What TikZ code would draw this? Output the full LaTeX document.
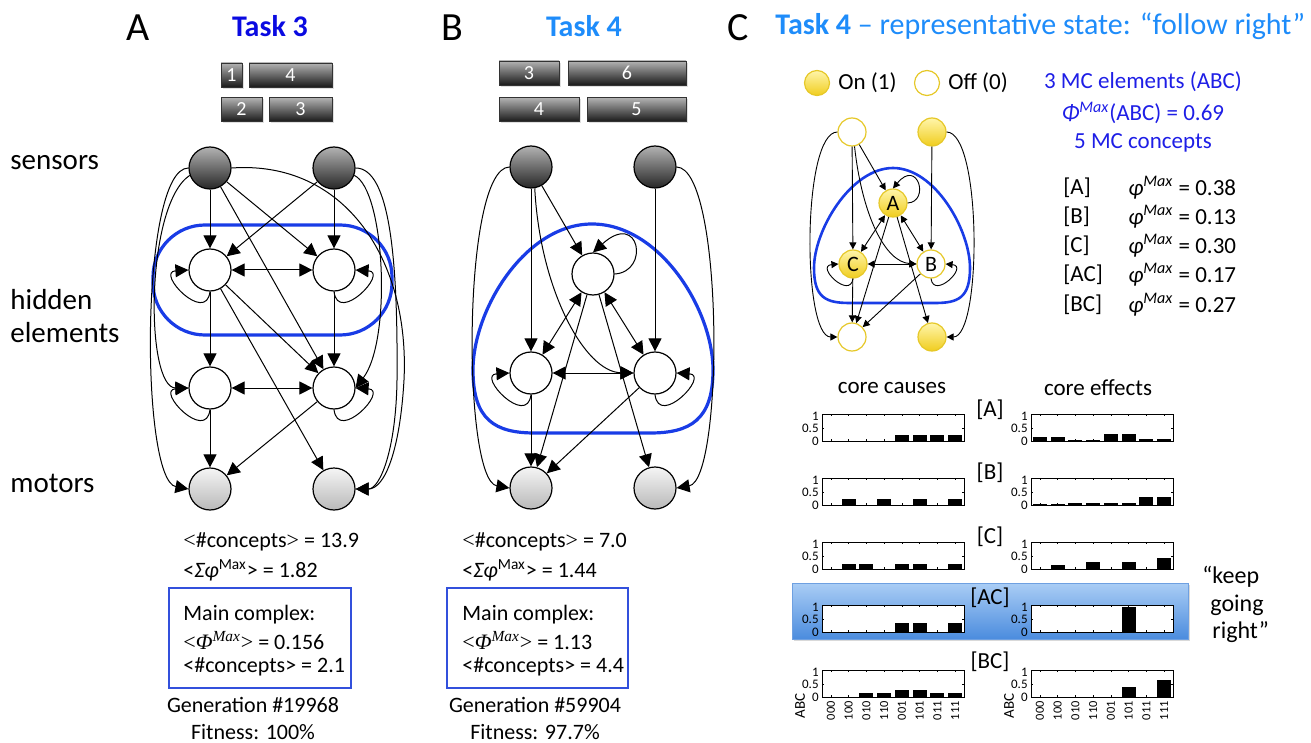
\documentclass[tikz,border=0pt]{standalone}
\usepackage{fontspec}
\setmainfont{Carlito}
\newfontfamily\serif{Liberation Serif}
\usetikzlibrary{arrows.meta,shadows}
\definecolor{loopblue}{RGB}{25,60,230}
\definecolor{taskthree}{RGB}{10,10,225}
\definecolor{taskfour}{RGB}{30,140,250}
\definecolor{mcblue}{RGB}{30,30,230}
\definecolor{boxblue}{RGB}{50,80,220}
\definecolor{yelbord}{RGB}{230,200,40}
\definecolor{yeltop}{RGB}{255,245,170}
\definecolor{yelbot}{RGB}{240,205,30}
\newcommand\fs[1]{\fontsize{#1}{#1}\selectfont}
\newcommand\drawchart[3]{%
  \fill[white] ({#1},{#2-27}) rectangle ++(142,27);
  \foreach \v [count=\i from 0] in {#3} {
    \fill[black] ({#1+8.875+17.75*\i-7},{#2}) rectangle ({#1+8.875+17.75*\i+7},{#2-25*\v});
  }
  \foreach \i in {0,...,7} {
    \draw[line width=0.3pt] ({#1+8.875+17.75*\i},{#2}) -- ++(0,-2);
    \draw[line width=0.3pt] ({#1+8.875+17.75*\i},{#2-27}) -- ++(0,2);
  }
  \draw[line width=0.3pt] ({#1},{#2-12.5}) -- ++(2,0) ({#1+142},{#2-12.5}) -- ++(-2,0);
  \draw[line width=0.5pt] ({#1},{#2-27}) rectangle ++(142,27);
  \node[ticklab] at ({#1-2},{#2}) {0};
  \node[ticklab] at ({#1-2},{#2-12.5}) {0.5};
  \node[ticklab] at ({#1-2},{#2-25}) {1};
}
\begin{document}
\begin{tikzpicture}[x=0.5pt,y=-0.5pt,
  arr/.style={-{Triangle[length=6.5pt,width=6.5pt]}, line width=0.5pt},
  darr/.style={{Triangle[length=6.5pt,width=6.5pt]}-{Triangle[length=6.5pt,width=6.5pt]}, line width=0.5pt},
  arrc/.style={-{Triangle[length=3.5pt,width=3.5pt]}, line width=0.45pt},
  darrc/.style={{Triangle[length=3.5pt,width=3.5pt]}-{Triangle[length=3.5pt,width=3.5pt]}, line width=0.45pt},
  sensor/.style={circle, draw, line width=0.6pt, minimum size=21pt, inner sep=0pt, top color=gray!60, bottom color=black!85},
  hidden/.style={circle, draw, line width=0.6pt, minimum size=21pt, inner sep=0pt, fill=white},
  motor/.style={circle, draw, line width=0.6pt, minimum size=21pt, inner sep=0pt, top color=gray!8, bottom color=gray!55},
  onnode/.style={circle, draw=yelbord, line width=0.6pt, minimum size=14pt, inner sep=0pt, top color=yeltop, bottom color=yelbot, font=\fs{11}},
  offnode/.style={circle, draw=yelbord, line width=0.6pt, minimum size=14pt, inner sep=0pt, fill=white, font=\fs{11}},
  barbox/.style={draw=black!80, line width=0.4pt, top color=gray!60, bottom color=black!90, text=white, font=\fs{10}, inner sep=0pt, minimum height=12pt, drop shadow={opacity=0.25, shadow xshift=0.8pt, shadow yshift=-0.8pt}},
  lbl/.style={anchor=west, font=\fs{14.5}, inner sep=0pt},
  txt/.style={anchor=west, font=\fs{11}, inner sep=0pt},
  ctxt/.style={font=\fs{11.5}},
  ltxt/.style={font=\fs{11.5}, anchor=west, inner sep=0pt},
  ticklab/.style={anchor=east, font=\fs{6.5}, inner sep=0.5pt},
  xtick/.style={anchor=east, rotate=90, font=\fs{6.2}, inner sep=0.5pt},
  loopline/.style={draw=loopblue, line width=1.6pt}
]
\useasboundingbox (0,0) rectangle (1311,743);

% ---------------- headers ----------------
\node[font=\fs{20}] (hA) at (138,28) {A};
\node[font=\fs{15}\bfseries, text=taskthree] (t3) at (270,26) {Task 3};
\node[font=\fs{20}] (hB) at (452,28) {B};
\node[font=\fs{15}\bfseries, text=taskfour] (t4) at (584,26) {Task 4};
\node[font=\fs{20}] (hC) at (738,28) {C};
\node[font=\fs{15}, text=taskfour, anchor=west, inner sep=0pt] (t4c) at (775,26) {{\bfseries Task 4} -- representative state: “follow right”};

% ---------------- row labels ----------------
\node[lbl] (ls) at (10,163) {sensors};
\node[lbl] (lh1) at (10,300) {hidden};
\node[lbl] (lh2) at (10,333) {elements};
\node[lbl] (lm) at (10,483) {motors};

% ---------------- panel A ----------------
\node[barbox, minimum width=10.5pt] (a1) at (231.5,75) {1};
\node[barbox, minimum width=41.5pt] (a4) at (290.5,75) {4};
\node[barbox, minimum width=20.5pt] (a2) at (241.5,109.5) {2};
\node[barbox, minimum width=31.5pt] (a3) at (300.5,109.5) {3};

\draw[loopline, rounded corners=26pt] (153,225) rectangle (392,335);

\node[sensor] (aSL) at (210,168) {};
\node[sensor] (aSR) at (334,168) {};
\node[hidden] (aH1) at (210,270) {};
\node[hidden] (aH2) at (334,270) {};
\node[hidden] (aH3) at (210,388) {};
\node[hidden] (aH4) at (334,388) {};
\node[motor] (aML) at (210,489) {};
\node[motor] (aMR) at (334,489) {};

\draw[arr] (aSL) -- (aH1);
\draw[arr] (aSR) -- (aH1);
\draw[arr] (aSL) -- (aH2);
\draw[arr] (aSR) -- (aH2);
\draw[darr] (aH1) -- (aH2);
\draw[arr] (aH1) -- (aH3);
\draw[arr] (aH2) -- (aH4);
\draw[arr] (aSL) -- (aH4);
\draw[arr] (aH1) -- (aH4);
\draw[arr] (aH1) -- (aMR);
\draw[darr] (aH3) -- (aH4);
\draw[arr] (aH3) -- (aML);
\draw[arr] (aH4) -- (aML);
\draw[arr] (aH1.south) .. controls (206,325) and (155,272) .. (aH1.west);
\draw[arr] (aH2.south) .. controls (338,325) and (389,272) .. (aH2.east);
\draw[arr] (aH3.south) .. controls (206,443) and (155,390) .. (aH3.west);
\draw[arr] (aH4.south) .. controls (338,443) and (389,390) .. (aH4.east);
\draw[arr] (aSL.west) .. controls (140,168) and (140,480) .. (aML.west);
\draw[arr] (aSL.200) .. controls (145,205) and (145,388) .. (aH3.west);
\draw[arr] (aSL.east) .. controls (345,160) and (410,260) .. (404,380) .. controls (400,450) and (385,489) .. (aMR.east);
\draw[arr] (aSR.east) .. controls (390,168) and (398,260) .. (397,380) .. controls (396,450) and (380,489) .. (aMR.east);
\draw[arr] (aSR.-20) .. controls (385,190) and (392,340) .. (aH4.east);

\node[txt] (a_c1) at (183,542) {{\serif<}\#concepts{\serif>} = 13.9};
\node[txt] (a_c2) at (183,570) {<{\itshape Σφ}\textsuperscript{Max}> = 1.82};
\draw[boxblue, line width=0.8pt] (169,588) rectangle (351,688);
\node[txt] (a_m1) at (183,615) {Main complex:};
\node[txt] (a_m2) at (183,641) {{\serif<\textit{Φ}\textsuperscript{\itshape Max}>} = 0.156};
\node[txt] (a_m3) at (183,667) {<\#concepts> = 2.1};
\node[font=\fs{11}] (a_g) at (253,705) {Generation \#19968};
\node[font=\fs{11}] (a_f) at (253,732) {Fitness: 100\%};

% ---------------- panel B ----------------
\node[barbox, minimum width=30pt] (b3) at (529,73) {3};
\node[barbox, minimum width=59pt] (b6) at (627,73) {6};
\node[barbox, minimum width=40pt] (b4) at (539,109.5) {4};
\node[barbox, minimum width=49.5pt] (b5) at (636.5,109.5) {5};

\draw[loopline] (592,224) .. controls (660,224) and (713,310) .. (713,370) .. controls (713,420) and (690,433) .. (650,433) -- (535,433) .. controls (495,433) and (473,420) .. (473,370) .. controls (473,310) and (525,224) .. (592,224) -- cycle;

\node[sensor] (bSL) at (531,167) {};
\node[sensor] (bSR) at (655,167) {};
\node[hidden] (bHT) at (593,274) {};
\node[hidden] (bHL) at (531,373) {};
\node[hidden] (bHR) at (655,373) {};
\node[motor] (bML) at (531,488) {};
\node[motor] (bMR) at (655,488) {};

\draw[arr] (bSL) -- (bHT);
\draw[arr] (bHT.east) .. controls (650,272) and (640,210) .. (bHT.north);
\draw[arr] (bSL) -- (bHL);
\draw[arr] (bSR) -- (bHR);
\draw[arr] (bSL.-80) .. controls (540,290) and (585,372) .. (bHR.west);
\draw[darr] (bHL) -- (bHR);
\draw[darr] (bHT) -- (bHL);
\draw[darr] (bHT) -- (bHR);
\draw[arr] (bHT) -- (bML);
\draw[arr] (bHT) -- (bMR);
\draw[arr] (bHL) -- (bML);
\draw[arr] (bHR) -- (bML);
\draw[arr] (bHL.south) .. controls (527,428) and (476,375) .. (bHL.west);
\draw[arr] (bHR.south) .. controls (659,428) and (710,375) .. (bHR.east);
\draw[arr] (bSL.west) .. controls (462,168) and (462,480) .. (bML.west);
\draw[arr] (bSR.east) .. controls (724,168) and (724,480) .. (bMR.east);

\node[txt] (b_c1) at (462,542) {{\serif<}\#concepts{\serif>} = 7.0};
\node[txt] (b_c2) at (462,570) {<{\itshape Σφ}\textsuperscript{Max}> = 1.44};
\draw[boxblue, line width=0.8pt] (447,588) rectangle (628,688);
\node[txt] (b_m1) at (462,615) {Main complex:};
\node[txt] (b_m2) at (462,641) {{\serif<\textit{Φ}\textsuperscript{\itshape Max}>} = 1.13};
\node[txt] (b_m3) at (462,667) {<\#concepts> = 4.4};
\node[font=\fs{11}] (b_g) at (535,705) {Generation \#59904};
\node[font=\fs{11}] (b_f) at (535,732) {Fitness: 97.7\%};

% ---------------- panel C network ----------------
\node[onnode, minimum size=12.5pt] (legon) at (817,83) {};
\node[ltxt] (legont) at (838,83) {On (1)};
\node[offnode, minimum size=12.5pt] (legoff) at (927,83) {};
\node[ltxt] (legofft) at (948,83) {Off (0)};

\draw[loopline, line width=1.3pt] (893,168) .. controls (935,168) and (970,230) .. (970,268) .. controls (970,298) and (958,303) .. (935,303) -- (850,303) .. controls (826,303) and (814,298) .. (814,268) .. controls (814,230) and (851,168) .. (893,168) -- cycle;

\node[offnode] (cS1) at (852,132) {};
\node[onnode] (cS2) at (932,132) {};
\node[onnode] (cA) at (893,203) {A};
\node[onnode] (cC) at (853,264) {C};
\node[offnode] (cB) at (931,264) {B};
\node[offnode] (cM1) at (852,337) {};
\node[onnode] (cM2) at (932,337) {};

\draw[arrc] (cS1) -- (cA);
\draw[arrc] (cA.east) .. controls (930,202) and (918,158) .. (cA.north);
\draw[arrc] (cS1) -- (cC);
\draw[arrc] (cS1.-80) .. controls (862,215) and (885,262) .. (cB.west);
\draw[arrc] (cS2) -- (cB);
\draw[darrc] (cA) -- (cC);
\draw[darrc] (cA) -- (cB);
\draw[darrc] (cC) -- (cB);
\draw[arrc] (cA) -- (cM1);
\draw[arrc] (cA) -- (cM2);
\draw[arrc] (cC) -- (cM1);
\draw[arrc] (cB) -- (cM1);
\draw[arrc] (cC.south) .. controls (850,300) and (815,266) .. (cC.west);
\draw[arrc] (cB.south) .. controls (934,300) and (969,266) .. (cB.east);
\draw[arrc] (cS1.west) .. controls (802,132) and (802,337) .. (cM1.west);
\draw[arrc] (cS2.east) .. controls (982,132) and (982,337) .. (cM2.east);

% ---------------- panel C texts ----------------
\node[ctxt, text=mcblue] (mc1) at (1143,82) {3 MC elements (ABC)};
\node[ctxt, text=mcblue] (mc2) at (1143,113) {{\itshape Φ}\textsuperscript{\itshape Max}(ABC) = 0.69};
\node[ctxt, text=mcblue] (mc3) at (1143,143) {5 MC concepts};
\foreach \lab/\val/\yy [count=\k] in {{[A]}/0.38/188,{[B]}/0.13/217,{[C]}/0.30/246,{[AC]}/0.17/275,{[BC]}/0.27/305} {
  \node[ltxt] (cl\k) at (1063,\yy) {\lab};
  \node[ltxt] (cv\k) at (1128,\yy) {{\itshape φ}\textsuperscript{\itshape Max} = \val};
}

% ---------------- charts ----------------
\node[ctxt] (ccause) at (892,388) {core causes};
\node[ctxt] (ceffect) at (1098,388) {core effects};

\fill[top color={rgb,255:red,170;green,205;blue,245}, bottom color={rgb,255:red,75;green,140;blue,222}, drop shadow={opacity=0.3, shadow xshift=1pt, shadow yshift=-1.2pt}] (792,583) rectangle (1188,639);
\draw[draw={rgb,255:red,110;green,160;blue,225}, line width=0.4pt] (792,583) rectangle (1188,639);

\drawchart{822}{441}{0,0,0,0,.25,.25,.25,.25}
\drawchart{1031}{441}{.17,.17,.06,.06,.3,.3,.1,.1}
\drawchart{822}{505}{0,.25,0,.25,0,.25,0,.25}
\drawchart{1031}{505}{.03,.03,.1,.1,.1,.1,.33,.33}
\drawchart{822}{569}{0,.2,.2,0,.2,.2,0,.2}
\drawchart{1031}{569}{0,.17,0,.27,0,.27,0,.44}
\drawchart{822}{632}{0,0,0,0,.35,.35,0,.35}
\drawchart{1031}{632}{0,0,0,0,0,1,0,0}
\drawchart{822}{697}{0,0,.15,.15,.27,.27,.15,.15}
\drawchart{1031}{697}{0,0,0,0,0,.4,0,.7}

\node[ctxt] (rA) at (990,410) {[A]};
\node[ctxt] (rB) at (990,473) {[B]};
\node[ctxt] (rC) at (990,537) {[C]};
\node[ctxt] (rAC) at (990,598) {[AC]};
\node[ctxt] (rBC) at (990,662) {[BC]};

\foreach \s [count=\i from 0] in {000,100,010,110,001,101,011,111} {
  \node[xtick] (xl\i) at ({822+8.875+17.75*\i},700) {\s};
  \node[xtick] (xr\i) at ({1031+8.875+17.75*\i},700) {\s};
}
\node[font=\fs{7.5}, rotate=90] (abcL) at (800,706) {ABC};
\node[font=\fs{7.5}, rotate=90] (abcR) at (1009,706) {ABC};

\node[font=\fs{12}, anchor=west, inner sep=0pt] (kg1) at (1202,577) {“keep};
\node[font=\fs{12}, anchor=west, inner sep=0pt] (kg2) at (1210,605) {going};
\node[font=\fs{12}, anchor=west, inner sep=0pt] (kg3) at (1212,632) {right”};
\end{tikzpicture}
\end{document}
